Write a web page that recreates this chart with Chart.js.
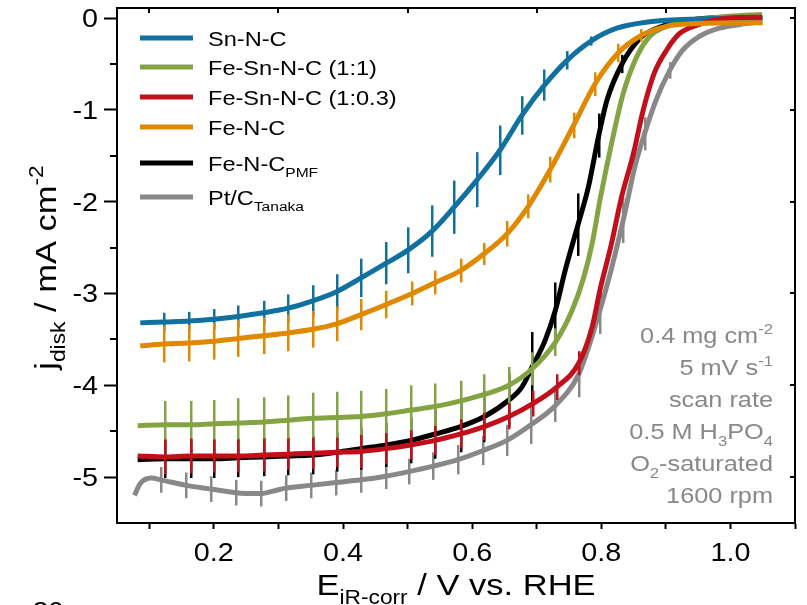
<!DOCTYPE html>
<html>
<head>
<meta charset="utf-8">
<script src="https://cdn.jsdelivr.net/npm/chart.js@4.4.0/dist/chart.umd.min.js"></script>
<style>
  html, body { margin: 0; padding: 0; background: #fff; }
  #wrap { width: 807px; height: 605px; }
</style>
</head>
<body>
<div id="wrap"><canvas id="rde"></canvas></div>
<script>
// ---- axes ----
const xTickLabels = [0.2, 0.4, 0.6, 0.8, 1.0];
const xTickMarks = [0.1, 0.2, 0.3, 0.4, 0.5, 0.6, 0.7, 0.8, 0.9, 1.0, 1.1];
const xTopMarks = [0.1, 0.3, 0.5, 0.7, 0.9];
const yTickLabels = [0, -1, -2, -3, -4, -5];
const yMinorMarks = [-0.5, -1.5, -2.5, -3.5, -4.5];

// ---- series (E in V vs RHE, j in mA cm-2, err = half length of bar) ----
const snE = [0.086, 0.123, 0.162, 0.200, 0.238, 0.277, 0.315, 0.353, 0.390, 0.428, 0.467, 0.500, 0.538, 0.572, 0.608, 0.643, 0.677, 0.712, 0.747, 0.784, 0.824, 0.875, 0.950, 1.050];
const snJ = [-3.32, -3.31, -3.30, -3.28, -3.25, -3.21, -3.16, -3.08, -2.98, -2.83, -2.67, -2.53, -2.32, -2.06, -1.76, -1.44, -1.06, -0.73, -0.46, -0.25, -0.11, -0.04, -0.01, 0.00];
const snErr = [0, 0.10, 0.10, 0.11, 0.12, 0.13, 0.15, 0.17, 0.19, 0.21, 0.23, 0.25, 0.28, 0.29, 0.30, 0.27, 0.21, 0.17, 0.10, 0.05, 0, 0, 0, 0];

const fsn11E = [0.082, 0.125, 0.164, 0.200, 0.238, 0.277, 0.315, 0.353, 0.390, 0.428, 0.467, 0.505, 0.543, 0.582, 0.619, 0.657, 0.693, 0.729, 0.755, 0.773, 0.786, 0.798, 0.817, 0.834, 0.855, 0.875, 0.901, 0.947, 0.998, 1.049];
const fsn11J = [-4.44, -4.43, -4.43, -4.42, -4.41, -4.40, -4.38, -4.36, -4.35, -4.34, -4.31, -4.27, -4.23, -4.17, -4.10, -4.00, -3.82, -3.53, -3.18, -2.82, -2.45, -1.98, -1.33, -0.82, -0.42, -0.20, -0.09, -0.02, 0.02, 0.04];
const fsn11Err = [0, 0.26, 0.26, 0.26, 0.27, 0.27, 0.27, 0.28, 0.28, 0.28, 0.27, 0.27, 0.25, 0.22, 0.22, 0.20, 0.18, 0.15, 0, 0, 0, 0, 0, 0, 0, 0, 0, 0, 0, 0];

const fsn03E = [0.082, 0.125, 0.164, 0.200, 0.238, 0.277, 0.315, 0.353, 0.390, 0.428, 0.467, 0.505, 0.543, 0.582, 0.619, 0.657, 0.694, 0.731, 0.765, 0.786, 0.798, 0.816, 0.831, 0.850, 0.865, 0.882, 0.901, 0.921, 0.947, 0.998, 1.049];
const fsn03J = [-4.77, -4.78, -4.77, -4.77, -4.77, -4.76, -4.75, -4.74, -4.73, -4.72, -4.69, -4.65, -4.60, -4.53, -4.45, -4.34, -4.20, -4.02, -3.76, -3.36, -2.96, -2.45, -1.96, -1.47, -1.00, -0.60, -0.35, -0.17, -0.08, 0.00, 0.01];
const fsn03Err = [0, 0.19, 0.19, 0.18, 0.18, 0.18, 0.17, 0.17, 0.16, 0.18, 0.17, 0.16, 0.16, 0.16, 0.15, 0.14, 0.14, 0.14, 0.13, 0, 0.08, 0, 0, 0, 0, 0, 0, 0, 0, 0, 0];

const feE = [0.086, 0.123, 0.162, 0.200, 0.238, 0.277, 0.315, 0.353, 0.390, 0.428, 0.467, 0.507, 0.543, 0.582, 0.618, 0.654, 0.687, 0.721, 0.757, 0.790, 0.826, 0.862, 0.901, 0.950, 1.050];
const feJ = [-3.57, -3.55, -3.54, -3.52, -3.49, -3.46, -3.43, -3.39, -3.33, -3.23, -3.12, -3.00, -2.88, -2.75, -2.57, -2.35, -2.05, -1.65, -1.17, -0.72, -0.38, -0.19, -0.09, -0.06, -0.05];
const feErr = [0, 0.20, 0.20, 0.20, 0.20, 0.20, 0.20, 0.20, 0.19, 0.17, 0.15, 0.13, 0.13, 0.13, 0.12, 0.14, 0.13, 0.14, 0.14, 0.13, 0.10, 0.07, 0, 0, 0];

const pmfE = [0.082, 0.125, 0.164, 0.200, 0.238, 0.277, 0.315, 0.353, 0.390, 0.428, 0.467, 0.505, 0.543, 0.582, 0.619, 0.657, 0.677, 0.693, 0.713, 0.729, 0.744, 0.764, 0.780, 0.796, 0.809, 0.832, 0.860, 0.880, 0.921, 0.998, 1.049];
const pmfJ = [-4.81, -4.80, -4.80, -4.80, -4.79, -4.78, -4.77, -4.76, -4.73, -4.69, -4.65, -4.60, -4.53, -4.45, -4.34, -4.16, -4.02, -3.80, -3.51, -3.18, -2.75, -2.25, -1.84, -1.28, -0.89, -0.50, -0.22, -0.13, -0.04, 0.01, 0.01];
const pmfErr = [0, 0.21, 0.21, 0.21, 0.21, 0.21, 0.21, 0.21, 0.21, 0.23, 0.24, 0.25, 0.27, 0.28, 0.28, 0.29, 0, 0.38, 0, 0.30, 0, 0.34, 0, 0.24, 0, 0.10, 0, 0, 0, 0, 0];

const ptE = [0.077, 0.086, 0.103, 0.118, 0.157, 0.195, 0.234, 0.273, 0.293, 0.311, 0.350, 0.389, 0.428, 0.466, 0.502, 0.540, 0.578, 0.617, 0.654, 0.691, 0.729, 0.765, 0.782, 0.798, 0.815, 0.834, 0.852, 0.867, 0.885, 0.906, 0.926, 0.952, 0.983, 1.024, 1.049];
const ptJ = [-5.20, -5.07, -5.01, -5.03, -5.09, -5.13, -5.17, -5.18, -5.15, -5.12, -5.09, -5.06, -5.03, -4.99, -4.94, -4.88, -4.81, -4.71, -4.60, -4.43, -4.22, -3.88, -3.55, -3.18, -2.75, -2.20, -1.62, -1.26, -0.89, -0.57, -0.35, -0.20, -0.11, -0.06, -0.04];
const ptErr = [0, 0, 0, 0.14, 0.14, 0.14, 0.14, 0.14, 0, 0.14, 0.14, 0.14, 0.14, 0.14, 0.14, 0.15, 0.16, 0.16, 0.17, 0.21, 0.18, 0.25, 0, 0.26, 0, 0.25, 0, 0.18, 0, 0.09, 0, 0, 0, 0, 0];

const seriesLabels = ["Sn-N-C", "Fe-Sn-N-C (1:1)", "Fe-Sn-N-C (1:0.3)", "Fe-N-C", "Fe-N-C", "Pt/C"];
const seriesSubs = ["", "", "", "", "PMF", "Tanaka"];
const seriesColors = ["#10709f", "#84a444", "#c2101a", "#e08800", "#000000", "#888888"];

const noteLines = [
  [["0.4 mg cm", ""], ["-2", "sup"]],
  [["5 mV s", ""], ["-1", "sup"]],
  [["scan rate", ""]],
  [["0.5 M H", ""], ["3", "sub"], ["PO", ""], ["4", "sub"]],
  [["O", ""], ["2", "sub"], ["-saturated", ""]],
  [["1600 rpm", ""]],
];

const FONT = '"Liberation Sans", Arial, sans-serif';
const STRETCH = 1.15;

function drawRich(ctx, parts, x, y, size, align, color) {
  let total = 0;
  const items = parts.map(([t, k]) => {
    const s = k ? size * 0.66 : size;
    ctx.font = s + "px " + FONT;
    const w = ctx.measureText(t).width * STRETCH;
    total += w;
    return { t, k, s, w };
  });
  let cx = align === "right" ? x - total : align === "center" ? x - total / 2 : x;
  items.forEach((it) => {
    const dy = it.k === "sub" ? size * 0.3 : it.k === "sup" ? -size * 0.42 : 0;
    ctx.save();
    ctx.fillStyle = color;
    ctx.font = it.s + "px " + FONT;
    ctx.textAlign = "left";
    ctx.textBaseline = "alphabetic";
    ctx.translate(cx, y + dy);
    ctx.scale(STRETCH, 1);
    ctx.fillText(it.t, 0, 0);
    ctx.restore();
    cx += it.w;
  });
}

const toPoints = (E, J) => E.map((e, i) => ({ x: e, y: J[i] }));

// error bars drawn right after each line so they stack with it
const errorBars = {
  id: "errorBars",
  afterDatasetDraw(chart, args) {
    const ds = chart.data.datasets[args.index];
    const { ctx, chartArea, scales } = chart;
    ctx.save();
    ctx.beginPath();
    ctx.rect(chartArea.left, chartArea.top, chartArea.right - chartArea.left, chartArea.bottom - chartArea.top);
    ctx.clip();
    ctx.strokeStyle = ds.borderColor;
    ctx.lineWidth = 2.5;
    ds.data.forEach((p, i) => {
      const e = ds.errors[i];
      if (!e) return;
      const px = Math.round(scales.x.getPixelForValue(p.x)) + 0.25;
      ctx.beginPath();
      ctx.moveTo(px, scales.y.getPixelForValue(p.y + e));
      ctx.lineTo(px, scales.y.getPixelForValue(p.y - e));
      ctx.stroke();
    });
    ctx.restore();
  },
};

const frameAndText = {
  id: "frameAndText",
  afterDraw(chart) {
    const { ctx, chartArea: a, scales } = chart;
    const xs = scales.x, ys = scales.y;
    ctx.save();
    // frame
    ctx.strokeStyle = "#000";
    ctx.lineWidth = 2;
    ctx.strokeRect(a.left, a.top, a.right - a.left, a.bottom - a.top);
    // minor y ticks (outside), mirror ticks (inside)
    ctx.beginPath();
    yMinorMarks.forEach((v) => {
      const py = Math.round(ys.getPixelForValue(v));
      ctx.moveTo(a.left - 7, py);
      ctx.lineTo(a.left, py);
    });
    yTickLabels.forEach((v) => {
      const py = Math.round(ys.getPixelForValue(v));
      ctx.moveTo(a.right - 5, py);
      ctx.lineTo(a.right, py);
    });
    xTopMarks.forEach((v) => {
      const px = Math.round(xs.getPixelForValue(v));
      ctx.moveTo(px, a.top);
      ctx.lineTo(px, a.top + 5);
    });
    ctx.stroke();

    // tick labels
    xTickLabels.forEach((v) => {
      drawRich(ctx, [[v.toFixed(1), ""]], xs.getPixelForValue(v), 561, 25, "center", "#000");
    });
    yTickLabels.forEach((v) => {
      drawRich(ctx, [[String(v), ""]], 98, ys.getPixelForValue(v) + 9, 25, "right", "#000");
    });

    // axis titles
    drawRich(ctx, [["E", ""], ["iR-corr", "sub"], [" / V vs. RHE", ""]], (a.left + a.right) / 2, 595, 30, "center", "#000");
    ctx.save();
    ctx.translate(56, (a.top + a.bottom) / 2 + 2);
    ctx.rotate(-Math.PI / 2);
    drawRich(ctx, [["j", ""], ["disk", "sub"], [" / mA cm", ""], ["-2", "sup"]], 0, 0, 30, "center", "#000");
    ctx.restore();

    // legend
    const rows = [38, 67, 97, 127, 163, 197];
    chart.data.datasets.forEach((ds, i) => {
      const y = rows[i];
      ctx.strokeStyle = ds.borderColor;
      ctx.lineWidth = 5;
      ctx.beginPath();
      ctx.moveTo(140, y);
      ctx.lineTo(193, y);
      ctx.stroke();
      const parts = [[seriesLabels[i], ""]];
      if (seriesSubs[i]) parts.push([seriesSubs[i], "sub"]);
      drawRich(ctx, parts, 208, y + 8, 20.5, "left", "#000");
    });

    // conditions note
    noteLines.forEach((parts, i) => {
      drawRich(ctx, parts, 773, 343 + i * 32, 22, "right", "#888888");
    });

    // edge of the next panel's tick label
    drawRich(ctx, [["30", ""]], 33, 619, 24, "left", "#000");
    ctx.restore();
  },
};

const series = [
  [snE, snJ, snErr, 2],
  [fsn11E, fsn11J, fsn11Err, 3],
  [fsn03E, fsn03J, fsn03Err, 1],
  [feE, feJ, feErr, 0],
  [pmfE, pmfJ, pmfErr, 4],
  [ptE, ptJ, ptErr, 5],
];

new Chart(document.getElementById("rde"), {
  type: "line",
  data: {
    datasets: series.map(([E, J, err, order], i) => ({
      label: seriesLabels[i] + seriesSubs[i],
      data: toPoints(E, J),
      errors: err,
      order: order,
      borderColor: seriesColors[i],
      borderWidth: 5,
      pointRadius: 0,
      fill: false,
      cubicInterpolationMode: "monotone",
    })),
  },
  options: {
    responsive: true,
    maintainAspectRatio: false,
    animation: false,
    devicePixelRatio: 1,
    layout: { padding: { top: 8, right: 12, left: 0, bottom: 0 } },
    plugins: {
      legend: { display: false },
      tooltip: { enabled: false },
    },
    scales: {
      x: {
        type: "linear",
        min: 0.05,
        max: 1.1,
        afterBuildTicks: (axis) => {
          axis.ticks = xTickMarks.map((v) => ({ value: v }));
        },
        afterFit: (axis) => {
          axis.height = 82;
          axis.paddingLeft = 0;
          axis.paddingRight = 0;
        },
        ticks: { display: false, autoSkip: false },
        grid: {
          drawOnChartArea: false,
          drawTicks: true,
          tickLength: 6,
          tickColor: "#000",
          tickWidth: 2,
        },
        border: { display: true, color: "#000", width: 2 },
      },
      y: {
        type: "linear",
        min: -5.5,
        max: 0.11,
        afterBuildTicks: (axis) => {
          axis.ticks = yTickLabels.map((v) => ({ value: v }));
        },
        afterFit: (axis) => {
          axis.width = 117;
          axis.paddingTop = 0;
          axis.paddingBottom = 0;
        },
        ticks: { display: false, autoSkip: false },
        grid: {
          drawOnChartArea: false,
          drawTicks: true,
          tickLength: 13,
          tickColor: "#000",
          tickWidth: 2,
        },
        border: { display: true, color: "#000", width: 2 },
      },
    },
  },
  plugins: [errorBars, frameAndText],
});
</script>
</body>
</html>
